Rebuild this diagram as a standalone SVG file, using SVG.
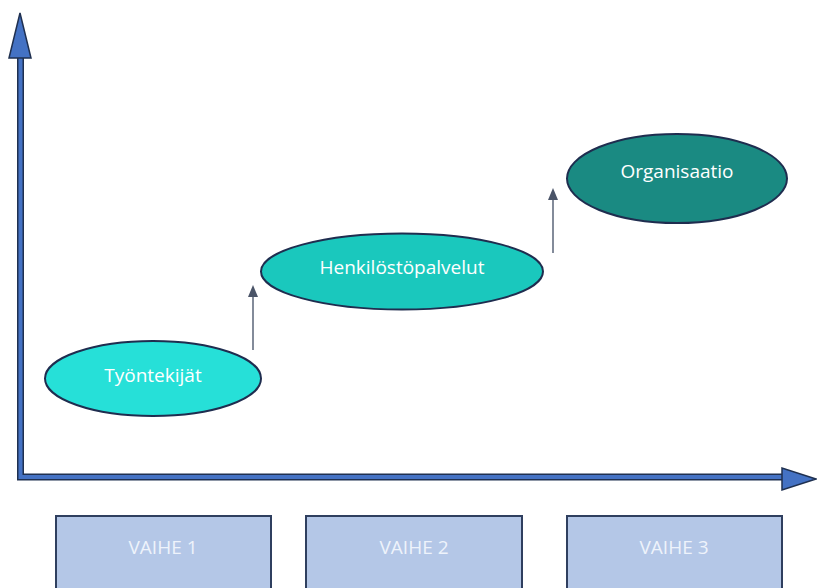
<svg xmlns="http://www.w3.org/2000/svg" width="817" height="588" viewBox="0 0 817 588">
<style>
.axo{fill:none;stroke:#1f3050;stroke-width:7;}
.axi{fill:none;stroke:#4472c4;stroke-width:4;}
.head{fill:#4472c4;stroke:#1f3050;stroke-width:1.5;stroke-linejoin:miter;}
.ell{stroke:#1f2d4f;stroke-width:2;}
.lbl{font-family:"Open Sans","Liberation Sans",sans-serif;font-size:19px;fill:#ffffff;text-anchor:middle;dominant-baseline:central;}
.box{fill:#b4c7e7;stroke:#2f3f5f;stroke-width:2;}
.blbl{font-family:"Open Sans","Liberation Sans",sans-serif;font-size:19px;fill:#eef3fb;text-anchor:middle;dominant-baseline:central;}
.step{stroke:#5a6478;stroke-width:1.5;fill:none;}
.stephead{fill:#4a5468;}
</style>
<g id="axes">
<path class="axo" d="M20.5,58 V477 H782"/>
<path class="axi" d="M20.5,58 V477 H782"/>
<polygon class="head" points="20,13 31,58 9,58"/>
<polygon class="head" points="816,479 782,468 782,490"/>
</g>
<g id="connectors">
<line class="step" x1="253" y1="350" x2="253" y2="296"/>
<polygon class="stephead" points="253,285 258,297 248,297"/>
<line class="step" x1="553" y1="253" x2="553" y2="199"/>
<polygon class="stephead" points="553,188 558,200 548,200"/>
</g>
<g id="node-tyontekijat">
<ellipse class="ell" cx="153" cy="378.5" rx="108" ry="37.5" fill="#26e0d8"/>
<text class="lbl" x="153" y="375">Työntekijät</text>
</g>
<g id="node-henkilostopalvelut">
<ellipse class="ell" cx="402" cy="271.5" rx="141" ry="38" fill="#1ac8bd"/>
<text class="lbl" x="402" y="267">Henkilöstöpalvelut</text>
</g>
<g id="node-organisaatio">
<ellipse class="ell" cx="677" cy="178.5" rx="110" ry="44.5" fill="#1a8a82"/>
<text class="lbl" x="677" y="171">Organisaatio</text>
</g>
<g id="node-vaihe1">
<rect class="box" x="56" y="516" width="215" height="80"/>
<text class="blbl" x="163" y="547">VAIHE 1</text>
</g>
<g id="node-vaihe2">
<rect class="box" x="306" y="516" width="216" height="80"/>
<text class="blbl" x="414" y="547">VAIHE 2</text>
</g>
<g id="node-vaihe3">
<rect class="box" x="567" y="516" width="215" height="80"/>
<text class="blbl" x="674" y="547">VAIHE 3</text>
</g>
</svg>
